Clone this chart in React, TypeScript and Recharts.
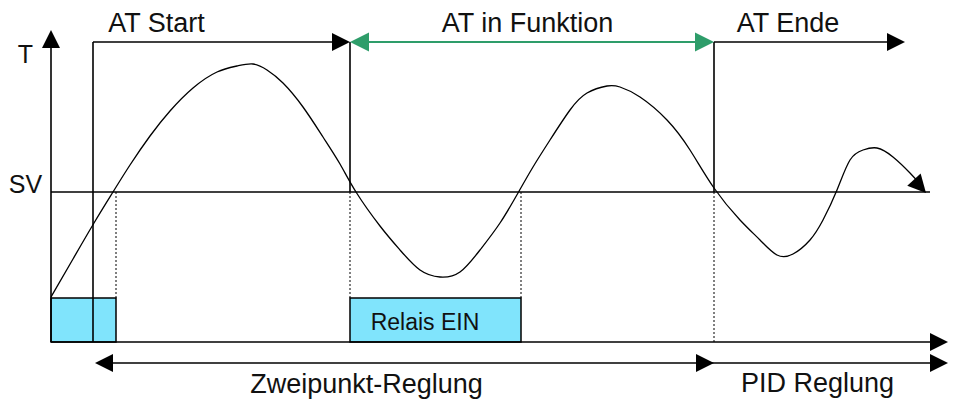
import React from "react";
import { ComposedChart, XAxis, YAxis, Line, Scatter, ReferenceLine, ReferenceArea } from "recharts";

// Temperature curve (time t, temperature v); SV = 150
const curveT = [0,22,43,62,79,99,119,142,166,186,202,216,232,252,272,289,305,329,349,369,389,409,429,449,467,482,499,519,536,556,569,589,616,639,663,689,709,726,742,759,772,786,799,812,826,842,859,869];
const curveV = [45,83,119,150,177,206,231,254,270,276,278,272,259,235,205,178,150,116,92,72,65,70,92,119,149,175,202,232,249,256,255,245,222,192,154,122,102,87,88,102,122,152,182,192,194,185,169,158];

const SV = 150;
const TOP = 300;
const LOWER = -21;
const tStart = 42;
const tFunc = 299;
const tEnd = 663;
const relay1 = [0, 65];
const relay2 = [299, 470];
const relayTop = 44;

// solid segments [t1, v1, t2, v2]
const solidSegs = [
  [0, 0, 0, 296],
  [0, 0, 880, 0],
  [0, SV, 879, SV],
  [tStart, TOP, 284, TOP],
  [tEnd, TOP, 840, TOP],
  [tStart, 0, tStart, TOP],
  [tFunc, SV, tFunc, TOP],
  [tEnd, SV, tEnd, TOP],
  [60, LOWER, 663, LOWER],
  [663, LOWER, 880, LOWER],
];
const greenSegs = [[tFunc + 10, TOP, tEnd - 10, TOP]];
const dottedSegs = [
  [65, relayTop, 65, SV],
  [tFunc, relayTop, tFunc, SV],
  [470, relayTop, 470, SV],
  [tEnd, 0, tEnd, SV],
];

// arrowheads: tip position and direction (deg, screen)
const arrowT = [0, 897, tFunc, tFunc, tEnd, 854, 44, 663, 897, 875];
const arrowV = [312, 0, TOP, TOP, TOP, TOP, LOWER, LOWER, LOWER, 149];
const arrowDir = [-90, 0, 0, 180, 0, 0, 180, 0, 0, 48];
const arrowGreen = [false, false, false, true, true, false, false, false, false, false];

const labelText = ["T", "SV", "AT Start", "AT in Funktion", "AT Ende", "Relais EIN", "Zweipunkt-Reglung", "PID Reglung"];
const labelT = [-25.5, -25.5, 105.5, 476.5, 737, 374, 315.5, 766.5];
const labelV = [279, 149, 310, 310, 310, 12, -51, -50];
const labelKind = ["axis", "axis", "main", "main", "main", "box", "main", "main"];

const curveData = curveT.map((t, i) => ({ t, v: curveV[i] }));
const arrowData = arrowT.map((t, i) => ({ t, v: arrowV[i], dir: arrowDir[i], green: arrowGreen[i] }));
const labelData = labelText.map((text, i) => ({ t: labelT[i], v: labelV[i], text, kind: labelKind[i] }));

const GREEN = "#2E9D6A";
const BLUE = "#80E4FC";
const FONT = "'Liberation Sans', Arial, sans-serif";
const fontSizes: Record<string, number> = { axis: 25, main: 27, box: 23 };

const ArrowShape = (props: any) => {
  const { cx, cy, payload } = props;
  if (cx == null || cy == null) return null;
  const L = payload.green ? 19 : 18;
  const W = payload.green ? 9.5 : 9;
  const a = (payload.dir * Math.PI) / 180;
  const c = Math.cos(a), s = Math.sin(a);
  const bx = cx - L * c, by = cy - L * s;
  const p1 = `${cx},${cy}`;
  const p2 = `${bx - W * s},${by + W * c}`;
  const p3 = `${bx + W * s},${by - W * c}`;
  return <polygon points={`${p1} ${p2} ${p3}`} fill={payload.green ? GREEN : "#000"} />;
};

const LabelShape = (props: any) => {
  const { cx, cy, payload } = props;
  if (cx == null || cy == null) return null;
  return (
    <text x={cx} y={cy} textAnchor="middle" fontFamily={FONT} fontSize={fontSizes[payload.kind]} fill="#111">
      {payload.text}
    </text>
  );
};

export default function App() {
  return (
    <div style={{ position: "absolute", left: 0, top: 0, background: "#fff" }}>
      <ComposedChart width={953} height={401} margin={{ top: 0, right: 0, bottom: 0, left: 0 }}>
        <XAxis type="number" dataKey="t" domain={[-51, 902]} allowDataOverflow hide />
        <YAxis type="number" dataKey="v" domain={[-59, 342]} allowDataOverflow hide />
        <ReferenceArea x1={relay1[0]} x2={relay1[1]} y1={0} y2={relayTop} fill={BLUE} fillOpacity={1} stroke="#000" strokeWidth={1.5} />
        <ReferenceArea x1={relay2[0]} x2={relay2[1]} y1={0} y2={relayTop} fill={BLUE} fillOpacity={1} stroke="#000" strokeWidth={1.5} />
        {dottedSegs.map((s, i) => (
          <ReferenceLine key={"d" + i} segment={[{ x: s[0], y: s[1] }, { x: s[2], y: s[3] }]} stroke="#000" strokeWidth={1} strokeDasharray="2 2" />
        ))}
        {solidSegs.map((s, i) => (
          <ReferenceLine key={"s" + i} segment={[{ x: s[0], y: s[1] }, { x: s[2], y: s[3] }]} stroke="#000" strokeWidth={1.6} />
        ))}
        {greenSegs.map((s, i) => (
          <ReferenceLine key={"g" + i} segment={[{ x: s[0], y: s[1] }, { x: s[2], y: s[3] }]} stroke={GREEN} strokeWidth={1.8} />
        ))}
        <Line data={curveData} dataKey="v" type="natural" stroke="#000" strokeWidth={1.3} dot={false} isAnimationActive={false} />
        <Scatter data={arrowData} dataKey="v" shape={ArrowShape} isAnimationActive={false} />
        <Scatter data={labelData} dataKey="v" shape={LabelShape} isAnimationActive={false} />
      </ComposedChart>
    </div>
  );
}
